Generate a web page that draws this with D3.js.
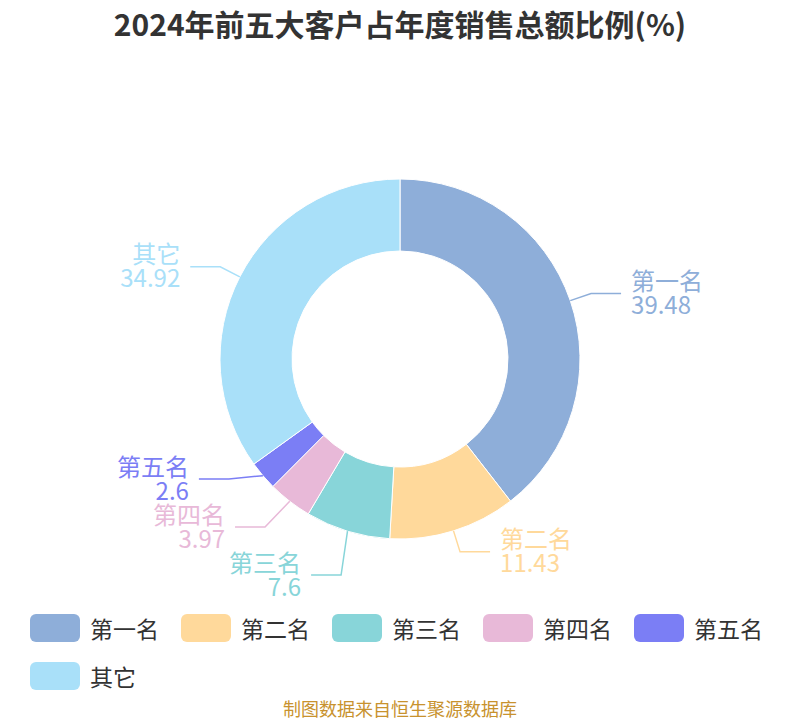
<!DOCTYPE html>
<html>
<head>
<meta charset="utf-8">
<script src="https://cdn.jsdelivr.net/npm/d3@7"></script>
<style>
  body { margin: 0; background: #fff; }
  svg { display: block; font-family: "Noto Sans CJK SC", "Noto Sans", sans-serif; }
</style>
</head>
<body>
<div id="chart"></div>
<script>
// data
var names = ["第一名", "第二名", "第三名", "第四名", "第五名", "其它"];
var shares = [39.48, 11.43, 7.6, 3.97, 2.6, 34.92];
var colors = ["#8eaed9", "#ffd99b", "#88d5d9", "#e8b9d8", "#7b7ef5", "#a9e0f9"];

var titleText = "2024年前五大客户占年度销售总额比例(%)";
var sourceText = "制图数据来自恒生聚源数据库";

var width = 800,
    height = 720,
    cx = 400,
    cy = 359,
    outerRadius = 180,
    innerRadius = 108,
    len1 = 22,          // first piece of the label line
    len2 = 30,          // horizontal piece
    labelGap = 48,      // min vertical distance between two labels
    labelMaxY = 575,    // labels stay above the legend
    labelMinY = 60;

var svg = d3.select("#chart")
    .append("svg")
    .attr("width", width)
    .attr("height", height);

svg.append("text")
    .attr("x", width / 2)
    .attr("y", 23)
    .attr("text-anchor", "middle")
    .attr("dominant-baseline", "central")
    .style("font-size", "30px")
    .style("font-weight", "bold")
    .style("fill", "#333")
    .text(titleText);

var data = names.map(function (n, i) {
    return {name: n, value: shares[i], color: colors[i]};
});

var pie = d3.pie()
    .sort(null)
    .value(function (d) { return d.value; });

var arc = d3.arc()
    .innerRadius(innerRadius)
    .outerRadius(outerRadius);

var arcs = pie(data);

var g = svg.append("g")
    .attr("transform", "translate(" + cx + "," + cy + ")");

g.selectAll("path")
    .data(arcs)
    .enter()
    .append("path")
    .attr("d", arc)
    .attr("fill", function (d) { return d.data.color; })
    .attr("stroke", "#fff")
    .attr("stroke-width", 1);

// label positions, then push apart the ones that overlap on each side
var labels = arcs.map(function (d) {
    var a = (d.startAngle + d.endAngle) / 2;
    var dx = Math.sin(a), dy = -Math.cos(a);
    var side = dx < 0 ? -1 : 1;
    return {
        d: d,
        side: side,
        x1: outerRadius * dx,
        y1: outerRadius * dy,
        x2: (outerRadius + len1) * dx,
        y2: (outerRadius + len1) * dy,
        y: (outerRadius + len1) * dy
    };
});

[-1, 1].forEach(function (side) {
    var list = labels.filter(function (l) { return l.side === side; })
        .sort(function (a, b) { return a.y - b.y; });
    if (list.length < 2) return;
    var moved = false;
    for (var i = 1; i < list.length; i++) {
        if (list[i].y < list[i - 1].y + labelGap) {
            list[i].y = list[i - 1].y + labelGap;
            moved = true;
        }
    }
    var last = list[list.length - 1];
    if (last.y > labelMaxY - cy) {
        last.y = labelMaxY - cy;
        for (var j = list.length - 2; j >= 0; j--) {
            if (list[j].y > list[j + 1].y - labelGap) list[j].y = list[j + 1].y - labelGap;
        }
        moved = true;
    }
    if (list[0].y < labelMinY - cy) {
        list[0].y = labelMinY - cy;
        moved = true;
    }
    if (!moved) return;
    // put the bend points back on an ellipse, one per half
    var rA = outerRadius + len1;
    [list.filter(function (l) { return l.y <= 0; }), list.filter(function (l) { return l.y > 0; })]
        .forEach(function (semi) {
            if (!semi.length) return;
            var far = semi.reduce(function (m, l) { return Math.abs(l.y) > Math.abs(m.y) ? l : m; });
            var fx = Math.abs(far.x2);
            var rB = fx < rA ? Math.abs(far.y) / Math.sqrt(1 - fx * fx / (rA * rA)) : rA;
            semi.forEach(function (l) {
                var k = 1 - (l.y * l.y) / (rB * rB);
                l.x2 = side * Math.sqrt(Math.max(k, 0)) * rA;
                l.y2 = l.y;
            });
        });
});

labels.forEach(function (l) {
    l.x3 = l.x2 + l.side * len2;
    l.y2 = l.y;
});

var lab = g.selectAll(".lab")
    .data(labels)
    .enter()
    .append("g")
    .attr("class", "lab");

lab.append("polyline")
    .attr("points", function (l) {
        return [[l.x1, l.y1], [l.x2, l.y2], [l.x3, l.y2]].join(" ");
    })
    .attr("fill", "none")
    .attr("stroke", function (l) { return l.d.data.color; })
    .attr("stroke-width", 1.5);

var txt = lab.append("text")
    .attr("text-anchor", function (l) { return l.side < 0 ? "end" : "start"; })
    .style("font-size", "24px")
    .style("fill", function (l) { return l.d.data.color; });

txt.append("tspan")
    .attr("x", function (l) { return l.x3 + l.side * 10; })
    .attr("y", function (l) { return l.y2 - 14; })
    .attr("dominant-baseline", "central")
    .text(function (l) { return l.d.data.name; });

txt.append("tspan")
    .attr("x", function (l) { return l.x3 + l.side * 10; })
    .attr("y", function (l) { return l.y2 + 10; })
    .attr("dominant-baseline", "central")
    .text(function (l) { return l.d.data.value; });

// legend, wraps when a row is full
var legend = svg.append("g");
var lx = 30, ly = 614, rowH = 48, maxX = 785;

data.forEach(function (d) {
    var item = legend.append("g");
    item.append("rect")
        .attr("width", 50)
        .attr("height", 28)
        .attr("rx", 6)
        .attr("fill", d.color);
    var t = item.append("text")
        .attr("x", 60)
        .attr("y", 14)
        .attr("dominant-baseline", "central")
        .style("font-size", "23px")
        .style("fill", "#333")
        .text(d.name);
    var w = 60 + t.node().getComputedTextLength();
    if (lx + w > maxX) {
        lx = 30;
        ly += rowH;
    }
    item.attr("transform", "translate(" + lx + "," + ly + ")");
    lx += w + 22;
});

svg.append("text")
    .attr("x", width / 2)
    .attr("y", 708)
    .attr("text-anchor", "middle")
    .attr("dominant-baseline", "central")
    .style("font-size", "18px")
    .style("fill", "#c8922e")
    .text(sourceText);
</script>
</body>
</html>
